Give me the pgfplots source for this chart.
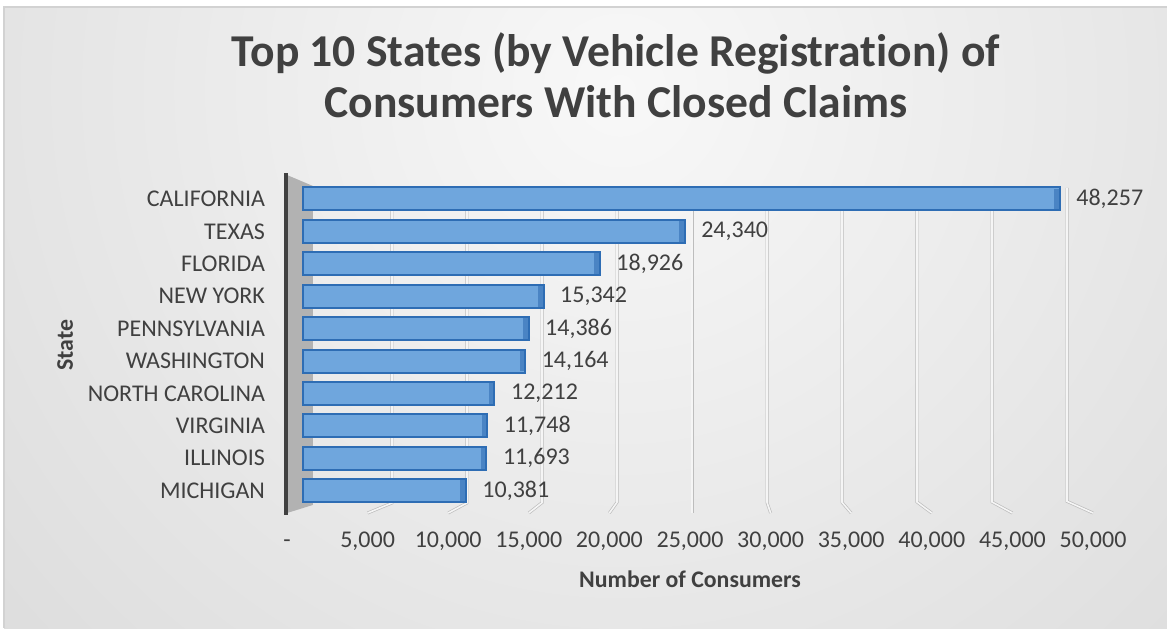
\documentclass[border=0pt]{standalone}
\usepackage{fontspec}
\setmainfont{Carlito}[Ligatures=NoCommon]
\usepackage{pgfplots}
\pgfplotsset{compat=1.18}
\definecolor{txt}{HTML}{404040}
\definecolor{barfill}{HTML}{6FA6DD}
\definecolor{baredge}{HTML}{2E6DB4}
\definecolor{barcap}{HTML}{4A84C4}
\definecolor{gridc}{HTML}{BDBDBD}
\definecolor{bgin}{HTML}{F8F8F8}
\definecolor{bgout}{HTML}{C4C4C4}
\tikzset{gridline/.style={draw=gridc, line width=0.35pt, double=white!96!black, double distance=0.8pt}}
\begin{document}
\begin{tikzpicture}
\useasboundingbox (0,0) rectangle (583.5pt,314pt);
\fill[white] (0,0) rectangle (583.5pt,314pt);
\begin{scope}
\clip (2pt,0) rectangle (583.5pt,310.5pt);
\shade[inner color=bgin, outer color=bgout] (310pt,269pt) circle (800pt);
\end{scope}
\draw[gray!35, line width=0.6pt] (2pt,0) -- (2pt,310.5pt) -- (583.5pt,310.5pt);
\node[align=center, text=txt, font=\fontsize{22.8}{25.5}\selectfont\bfseries] at (308pt,276.5pt)
  {Top 10 States (by Vehicle Registration) of\\Consumers With Closed Claims};
\begin{axis}[
  at={(143.5pt,57.5pt)}, anchor=south west,
  width=406.5pt, height=169pt, scale only axis,
  xmin=-1020, xmax=50830, ymin=-0.74, ymax=9.69, y dir=reverse,
  scaled x ticks=false,
  axis line style={draw=none}, major tick length=0pt,
  xtick={-1020,4120,9261,14401,19541,24682,29822,34962,40102,45243,50383},
  xticklabels={-,{5,000},{10,000},{15,000},{20,000},{25,000},{30,000},{35,000},{40,000},{45,000},{50,000}},
  ytick={0,...,9},
  yticklabels={CALIFORNIA,TEXAS,FLORIDA,{NEW YORK},PENNSYLVANIA,WASHINGTON,{NORTH CAROLINA},VIRGINIA,ILLINOIS,MICHIGAN},
  tick label style={font=\fontsize{12}{14}\selectfont, text=txt},
  xticklabel style={text height=8pt, text depth=2pt, yshift=-5.5pt},
  yticklabel style={xshift=-7.5pt},
  xlabel={Number of Consumers}, ylabel={State},
  label style={font=\fontsize{11.9}{14}\selectfont\bfseries, text=txt},
  xlabel style={at={(axis description cs:0.4957,-0.195)}, anchor=center},
  ylabel style={at={(axis description cs:-0.273,0.497)}, anchor=center},
  clip=false,
]
% side wall
\fill[gray!60] (axis cs:-1020,-0.74) -- (axis cs:638,-0.40) -- (axis cs:638,9.44) -- (axis cs:-1020,9.69) -- cycle;
% gridlines (back wall with perspective feet)
\draw[gridline] (axis cs:5676,-0.40) -- (axis cs:5676,9.38) -- (axis cs:4120,9.69);
\draw[gridline] (axis cs:10459,-0.40) -- (axis cs:10459,9.38) -- (axis cs:9261,9.69);
\draw[gridline] (axis cs:15243,-0.40) -- (axis cs:15243,9.37) -- (axis cs:14401,9.69);
\draw[gridline] (axis cs:20026,-0.40) -- (axis cs:20026,9.36) -- (axis cs:19541,9.69);
\draw[gridline] (axis cs:24809,-0.40) -- (axis cs:24809,9.69);
\draw[gridline] (axis cs:29592,-0.40) -- (axis cs:29592,9.36) -- (axis cs:29822,9.69);
\draw[gridline] (axis cs:34375,-0.40) -- (axis cs:34375,9.36) -- (axis cs:34962,9.69);
\draw[gridline] (axis cs:39158,-0.40) -- (axis cs:39158,9.35) -- (axis cs:40102,9.69);
\draw[gridline] (axis cs:43942,-0.40) -- (axis cs:43942,9.35) -- (axis cs:45243,9.69);
\draw[gridline] (axis cs:48725,-0.34) -- (axis cs:48725,9.33) -- (axis cs:50383,9.69);
% dark left edge
\draw[txt, line width=2pt] (axis cs:-1084,-0.80) -- (axis cs:-1084,9.75);
\addplot[xbar, bar width=11.5pt, fill=barfill, draw=baredge, line width=1pt,
  nodes near coords={\pgfmathprintnumber[fixed,precision=0,1000 sep={,},assume math mode=true]{\pgfplotspointmeta}},
  point meta=x,
  every node near coord/.append style={anchor=west, xshift=4.5pt, font=\fontsize{12}{14}\selectfont, text=txt}]
  coordinates {(48257,0) (24340,1) (18926,2) (15342,3) (14386,4) (14164,5) (12212,6) (11748,7) (11693,8) (10381,9)};
\addplot[only marks, mark=|, mark size=5.2pt, mark options={draw=barcap, line width=2.2pt, xshift=-1.6pt}]
  coordinates {(48257,0) (24340,1) (18926,2) (15342,3) (14386,4) (14164,5) (12212,6) (11748,7) (11693,8) (10381,9)};
\end{axis}
\end{tikzpicture}
\end{document}
